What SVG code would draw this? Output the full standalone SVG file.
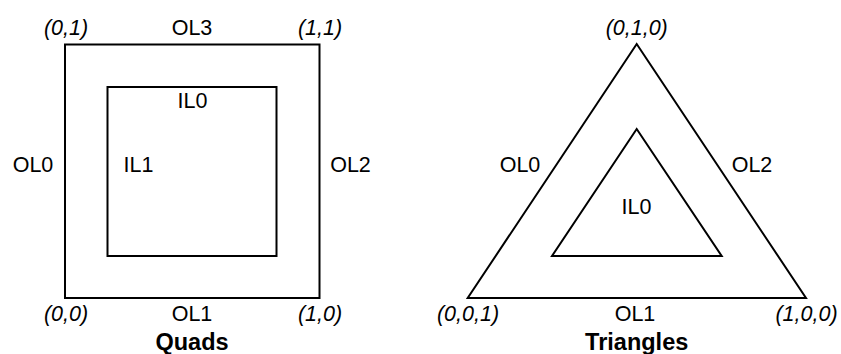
<svg xmlns="http://www.w3.org/2000/svg" width="841" height="354" viewBox="0 0 841 354">
  <style>
    .shape { fill: none; stroke: #000; stroke-width: 2; stroke-linejoin: miter; }
    text { font-family: "Liberation Sans", Arial, sans-serif; font-size: 21.5px; fill: #000; text-anchor: middle; }
    .coord { font-style: italic; }
    .title { font-weight: bold; font-size: 23.5px; }
  </style>
  <rect width="841" height="354" fill="#fff"/>

  <!-- Quad domain -->
  <g id="quads">
    <g id="quad-outer">
      <rect class="shape" x="65" y="44.5" width="254.5" height="253.5"/>
    </g>
    <g id="quad-inner">
      <rect class="shape" x="107.5" y="87" width="169" height="169"/>
    </g>
    <g id="quad-labels">
      <text class="coord" x="66" y="35">(0,1)</text>
      <text x="192" y="35">OL3</text>
      <text class="coord" x="320" y="35">(1,1)</text>
      <text x="192.5" y="108">IL0</text>
      <text x="33" y="172">OL0</text>
      <text x="138.5" y="172">IL1</text>
      <text x="350.5" y="172">OL2</text>
      <text class="coord" x="66" y="321">(0,0)</text>
      <text x="192" y="321">OL1</text>
      <text class="coord" x="320" y="321">(1,0)</text>
      <text class="title" x="192" y="350">Quads</text>
    </g>
  </g>

  <!-- Triangle domain -->
  <g id="triangles">
    <g id="tri-outer">
      <polygon class="shape" points="636.7,44 806,298 467.7,298"/>
    </g>
    <g id="tri-inner">
      <polygon class="shape" points="636.7,129 721.7,256 552,256"/>
    </g>
    <g id="tri-labels">
      <text class="coord" x="636.7" y="35">(0,1,0)</text>
      <text x="520" y="172">OL0</text>
      <text x="752" y="172">OL2</text>
      <text x="636.5" y="214">IL0</text>
      <text class="coord" x="468" y="321">(0,0,1)</text>
      <text x="635" y="321">OL1</text>
      <text class="coord" x="806.5" y="321">(1,0,0)</text>
      <text class="title" x="636.7" y="350">Triangles</text>
    </g>
  </g>
</svg>
